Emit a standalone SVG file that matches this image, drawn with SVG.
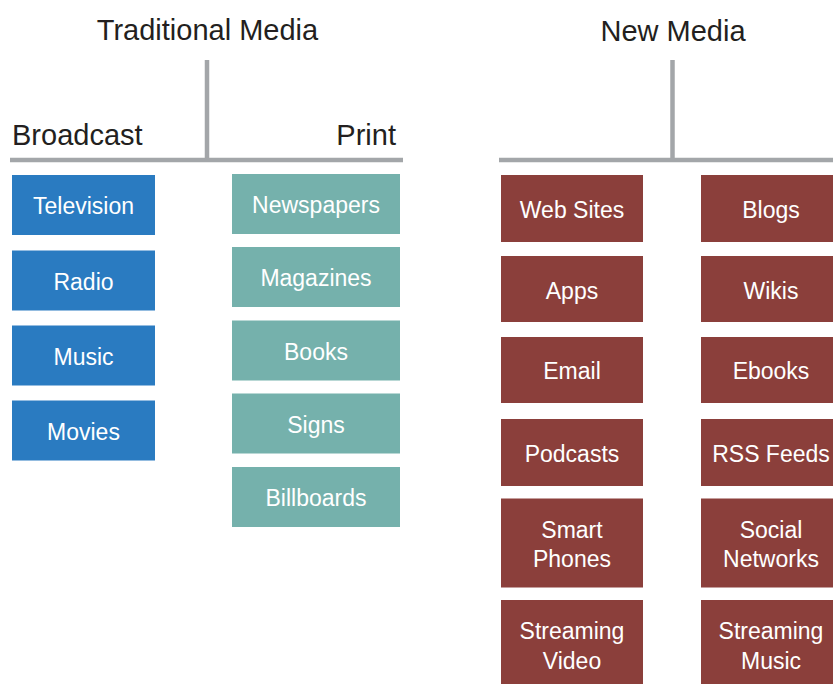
<svg xmlns="http://www.w3.org/2000/svg" width="833" height="684" viewBox="0 0 833 684">
<style>
text{font-family:"Liberation Sans",Arial,sans-serif;}
.hd{font-size:29px;fill:#231f20;}
.lb{font-size:23px;fill:#ffffff;text-anchor:middle;}
.ln{stroke:#a3a6a9;stroke-width:4.5;fill:none;}
.bl{fill:#2a7bc1;}
.tl{fill:#75b1ac;}
.mr{fill:#8b3f3b;}
</style>
<rect width="833" height="684" fill="#ffffff"/>
<g id="connectors">
<line class="ln" x1="207" y1="60" x2="207" y2="160"/>
<line class="ln" x1="10" y1="160" x2="403" y2="160"/>
<line class="ln" x1="672.5" y1="60" x2="672.5" y2="160"/>
<line class="ln" x1="499" y1="160" x2="833" y2="160"/>
</g>
<g id="traditional-media"><text class="hd" x="207.5" y="40" text-anchor="middle">Traditional Media</text></g>
<g id="new-media"><text class="hd" x="673" y="41" text-anchor="middle">New Media</text></g>
<g id="broadcast"><text class="hd" x="12" y="144.5">Broadcast</text></g>
<g id="print"><text class="hd" x="396" y="144.5" text-anchor="end">Print</text></g>

<g id="television"><rect class="bl" x="12" y="175" width="143" height="60"/><text class="lb" x="83.5" y="214">Television</text></g>
<g id="radio"><rect class="bl" x="12" y="250.5" width="143" height="60"/><text class="lb" x="83.5" y="289.5">Radio</text></g>
<g id="music"><rect class="bl" x="12" y="325.5" width="143" height="60"/><text class="lb" x="83.5" y="364.5">Music</text></g>
<g id="movies"><rect class="bl" x="12" y="400.5" width="143" height="60"/><text class="lb" x="83.5" y="439.5">Movies</text></g>

<g id="newspapers"><rect class="tl" x="232" y="174" width="168" height="60"/><text class="lb" x="316" y="213">Newspapers</text></g>
<g id="magazines"><rect class="tl" x="232" y="247" width="168" height="60"/><text class="lb" x="316" y="286">Magazines</text></g>
<g id="books"><rect class="tl" x="232" y="320.5" width="168" height="60"/><text class="lb" x="316" y="359.5">Books</text></g>
<g id="signs"><rect class="tl" x="232" y="393.5" width="168" height="60"/><text class="lb" x="316" y="432.5">Signs</text></g>
<g id="billboards"><rect class="tl" x="232" y="467" width="168" height="60"/><text class="lb" x="316" y="506">Billboards</text></g>

<g id="web-sites"><rect class="mr" x="501" y="175" width="142" height="67"/><text class="lb" x="572" y="218">Web Sites</text></g>
<g id="apps"><rect class="mr" x="501" y="256" width="142" height="66"/><text class="lb" x="572" y="298.5">Apps</text></g>
<g id="email"><rect class="mr" x="501" y="337" width="142" height="66"/><text class="lb" x="572" y="379">Email</text></g>
<g id="podcasts"><rect class="mr" x="501" y="419" width="142" height="67"/><text class="lb" x="572" y="461.5">Podcasts</text></g>
<g id="smart-phones"><rect class="mr" x="501" y="498.5" width="142" height="89"/><text class="lb" x="572" y="538">Smart</text><text class="lb" x="572" y="567">Phones</text></g>
<g id="streaming-video"><rect class="mr" x="501" y="600" width="142" height="90"/><text class="lb" x="572" y="639">Streaming</text><text class="lb" x="572" y="669">Video</text></g>

<g id="blogs"><rect class="mr" x="701" y="175" width="140" height="67"/><text class="lb" x="771" y="218">Blogs</text></g>
<g id="wikis"><rect class="mr" x="701" y="256" width="140" height="66"/><text class="lb" x="771" y="298.5">Wikis</text></g>
<g id="ebooks"><rect class="mr" x="701" y="337" width="140" height="66"/><text class="lb" x="771" y="379">Ebooks</text></g>
<g id="rss-feeds"><rect class="mr" x="701" y="419" width="140" height="67"/><text class="lb" x="771" y="461.5">RSS Feeds</text></g>
<g id="social-networks"><rect class="mr" x="701" y="498.5" width="140" height="89"/><text class="lb" x="771" y="538">Social</text><text class="lb" x="771" y="567">Networks</text></g>
<g id="streaming-music"><rect class="mr" x="701" y="600" width="140" height="90"/><text class="lb" x="771" y="639">Streaming</text><text class="lb" x="771" y="669">Music</text></g>
</svg>
